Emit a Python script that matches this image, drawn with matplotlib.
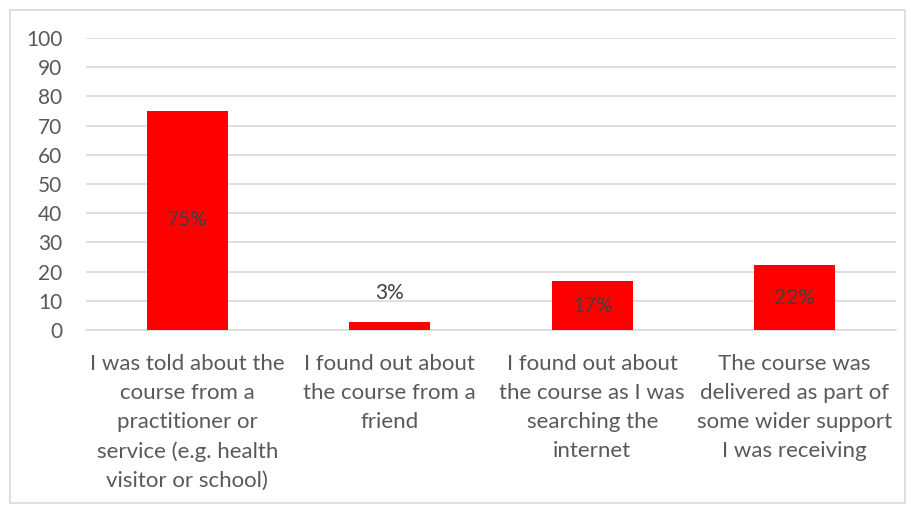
import matplotlib
matplotlib.use("Agg")
import matplotlib.pyplot as plt
from matplotlib.patches import Rectangle

# данные
categories = [
    "I was told about the\ncourse from a\npractitioner or\nservice (e.g. health\nvisitor or school)",
    "I found out about\nthe course from a\nfriend",
    "I found out about\nthe course as I was\nsearching the\ninternet",
    "The course was\ndelivered as part of\nsome wider support\nI was receiving",
]
values = [75, 2.8, 16.7, 22.2]
yticks = [0, 10, 20, 30, 40, 50, 60, 70, 80, 90, 100]

plt.rcParams["font.family"] = ["Lato", "DejaVu Sans"]

fig = plt.figure(figsize=(9.12, 5.05), dpi=100)
fig.patches.append(Rectangle((10 / 912, 2 / 505), 895 / 912, 493 / 505,
                             transform=fig.transFigure, fill=False,
                             edgecolor="#d9d9d9", linewidth=1.2))

ax = fig.add_axes([86 / 912, 1 - 330 / 505, 810 / 912, 292 / 505])

x = list(range(len(categories)))
ax.bar(x, values, width=0.4, color="#ff0000", zorder=3)

for xi, v in zip(x, values):
    label = f"{round(v)}%"
    if v < 8:
        ax.text(xi, v + 10, label, ha="center", va="center", fontsize=15, color="#404040")
    else:
        ax.text(xi, v / 2, label, ha="center", va="center", fontsize=15, color="#404040", zorder=4)

ax.set_xlim(-0.5, len(categories) - 0.5)
ax.set_ylim(0, 100)
ax.set_yticks(yticks)
ax.yaxis.grid(True, color="#d9d9d9", linewidth=1.2, zorder=0)
ax.set_xticks(x)
ax.set_xticklabels(categories, fontsize=16, color="#595959", linespacing=1.57)
ax.tick_params(axis="y", labelsize=15, labelcolor="#595959", length=0, pad=17)
ax.tick_params(axis="x", length=0, pad=17)
for s in ["top", "right", "left"]:
    ax.spines[s].set_visible(False)
ax.spines["bottom"].set_color("#d9d9d9")
ax.spines["bottom"].set_linewidth(1.2)

fig.savefig("out.png", dpi=100)
